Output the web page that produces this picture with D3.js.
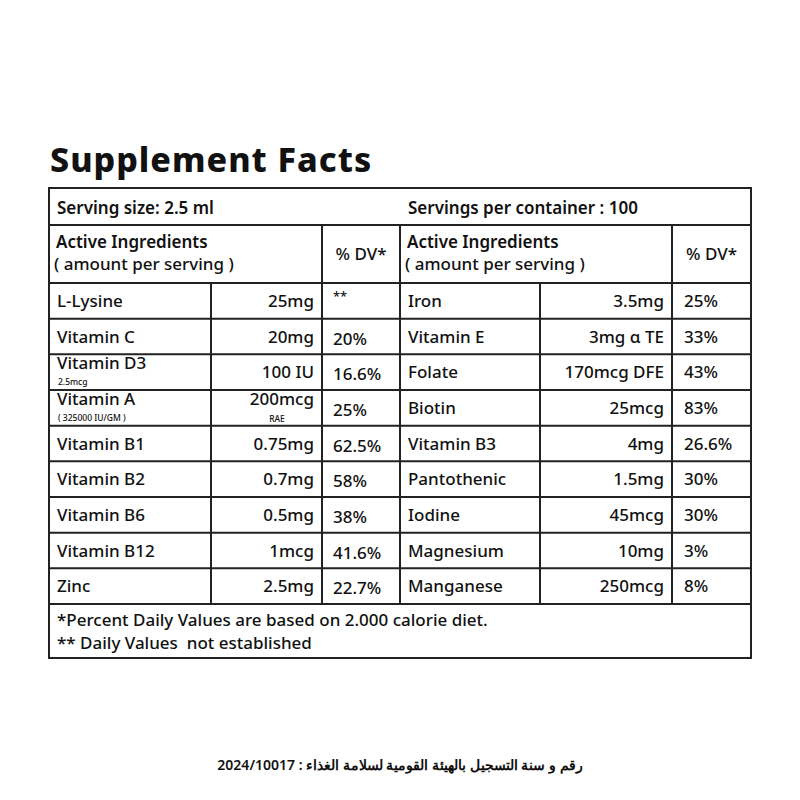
<!DOCTYPE html>
<html lang="en">
<head>
  <meta charset="UTF-8">
  <title>Supplement Facts</title>
  <script src="https://d3js.org/d3.v7.min.js"></script>
  <style>
    body { margin: 0; background: #fff; }
    svg { font-family: "Noto Sans", sans-serif; fill: #111; }
    text { white-space: pre; }
  </style>
</head>
<body>
  <svg width="800" height="800"></svg>
  <script>
    // left half of the table
    const leftNames = ["L-Lysine", "Vitamin C", "Vitamin D3", "Vitamin A", "Vitamin B1", "Vitamin B2", "Vitamin B6", "Vitamin B12", "Zinc"];
    const leftSubs = ["", "", "2.5mcg", "( 325000 IU/GM )", "", "", "", "", ""];
    const leftAmounts = ["25mg", "20mg", "100 IU", "200mcg", "0.75mg", "0.7mg", "0.5mg", "1mcg", "2.5mg"];
    const leftAmountSubs = ["", "", "", "RAE", "", "", "", "", ""];
    const leftDV = ["**", "20%", "16.6%", "25%", "62.5%", "58%", "38%", "41.6%", "22.7%"];
    // right half
    const rightNames = ["Iron", "Vitamin E", "Folate", "Biotin", "Vitamin B3", "Pantothenic", "Iodine", "Magnesium", "Manganese"];
    const rightAmounts = ["3.5mg", "3mg α TE", "170mcg DFE", "25mcg", "4mg", "1.5mg", "45mcg", "10mg", "250mcg"];
    const rightDV = ["25%", "33%", "43%", "83%", "26.6%", "30%", "30%", "3%", "8%"];

    const svg = d3.select("svg");
    const boxL = 49, boxR = 751, boxT = 188, boxB = 658;
    const cols = { l: [49, 211, 322, 400], r: [400, 540, 672, 751] };

    const y = d3.scaleBand().domain(d3.range(leftNames.length)).range([283, 604]);

    // title
    svg.append("text").attr("x", 50).attr("y", 172).attr("letter-spacing", 1)
      .attr("font-size", 34).attr("font-weight", 800).text("Supplement Facts");

    const g = svg.append("g");
    const line = (xa, ya, xb, yb) => g.append("line")
      .attr("x1", xa).attr("y1", ya).attr("x2", xb).attr("y2", yb)
      .attr("stroke", "#222").attr("stroke-width", 2);

    g.append("rect").attr("x", boxL).attr("y", boxT).attr("width", boxR - boxL).attr("height", boxB - boxT)
      .attr("fill", "none").attr("stroke", "#222").attr("stroke-width", 2);
    line(boxL, 225, boxR, 225);
    line(boxL, 283, boxR, 283);
    d3.range(leftNames.length).forEach(i => line(boxL, y(i) + y.bandwidth(), boxR, y(i) + y.bandwidth()));
    [322, 400, 672].forEach(cx => line(cx, 225, cx, 604));
    [211, 540].forEach(cx => line(cx, 283, cx, 604));

    const txt = (x, yy, s, size, opts = {}) => svg.append("text").attr("x", x).attr("y", yy)
      .attr("font-size", size).attr("font-weight", opts.w || 500)
      .attr("text-anchor", opts.a || "start").text(s);

    const fs = 17;
    txt(57, 214, "Serving size: 2.5 ml", fs, { w: 600 });
    txt(408, 214, "Servings per container : 100", fs, { w: 600 });
    ["l", "r"].forEach(k => {
      const c = cols[k];
      txt(c[0] + 7, 248, "Active Ingredients", fs, { w: 600 });
      txt(c[0] + 5, 270, "( amount per serving )", fs);
      txt((c[2] + c[3]) / 2, 260, "% DV*", fs, { a: "middle" });
    });

    leftNames.forEach((n, i) => {
      const yc = y(i) + y.bandwidth() / 2;
      const hasSub = leftSubs[i] !== "";
      txt(57, yc + (hasSub ? -3 : 6), n, fs);
      if (hasSub) txt(58, yc + 13, leftSubs[i], 8.5);
      txt(cols.l[2] - 8, yc + (leftAmountSubs[i] ? -3 : 6), leftAmounts[i], fs, { a: "end" });
      if (leftAmountSubs[i]) txt(cols.l[2] - 45, yc + 14, leftAmountSubs[i], 8.5, { a: "middle" });
      txt(cols.l[2] + 11, yc + (i === 0 ? 0 : 8), leftDV[i], i === 0 ? 13 : fs);

      txt(cols.r[0] + 8, yc + 6, rightNames[i], fs);
      txt(cols.r[2] - 8, yc + 6, rightAmounts[i], fs, { a: "end" });
      txt(cols.r[2] + 12, yc + 6, rightDV[i], fs);
    });

    txt(57, 626, "*Percent Daily Values are based on 2.000 calorie diet.", fs);
    txt(57, 649, "** Daily Values  not established", fs);

    svg.append("text").attr("x", 400).attr("y", 770).attr("direction", "rtl")
      .attr("text-anchor", "middle").attr("font-size", 14).attr("font-weight", 600)
      .text("رقم و سنة التسجيل بالهيئة القومية لسلامة الغذاء : 2024/10017");
  </script>
</body>
</html>
